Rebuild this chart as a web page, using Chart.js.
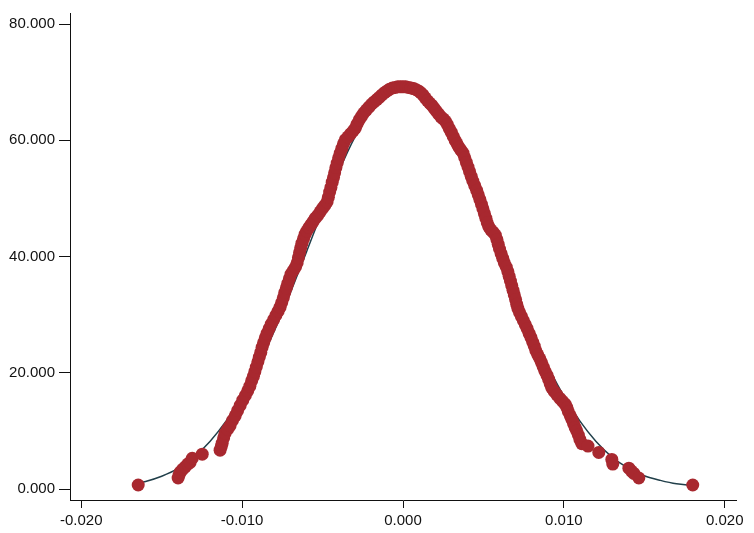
<!DOCTYPE html>
<html>
<head>
<meta charset="utf-8">
<script src="https://cdn.jsdelivr.net/npm/chart.js@4.4.1/dist/chart.umd.min.js"></script>
<style>
  html, body { margin: 0; padding: 0; background: #ffffff; }
  #wrap { width: 754px; height: 533px; position: relative; }
</style>
</head>
<body>
<div id="wrap"><canvas id="c" width="754" height="533"></canvas></div>
<script>
// Tick labels
const xTicks = [-0.020, -0.010, 0.000, 0.010, 0.020];
const yTicks = [0, 20, 40, 60, 80];

// Density estimate evaluated at each observation (red dots)
const dotX = [
  -0.01646, -0.01398, -0.01392, -0.01385, -0.01370, -0.01354, -0.01338, -0.01323, -0.01310, -0.01248,
  -0.01137, -0.01130, -0.01124, -0.01115, -0.01106, -0.01090, -0.01075, -0.01060, -0.01043, -0.01028,
  -0.01012, -0.00996, -0.00980,
  -0.00965, -0.00952, -0.00941, -0.00930, -0.00921, -0.00912, -0.00902, -0.00893, -0.00884, -0.00876,
  -0.00866, -0.00856, -0.00845, -0.00832, -0.00819, -0.00805, -0.00790, -0.00776, -0.00764, -0.00754,
  -0.00744, -0.00735, -0.00725, -0.00716, -0.00706, -0.00696, -0.00682, -0.00668, -0.00658, -0.00650,
  -0.00643, -0.00636, -0.00628, -0.00618, -0.00609, -0.00598, -0.00585, -0.00572, -0.00559, -0.00545,
  -0.00530, -0.00515, -0.00500, -0.00486, -0.00472, -0.00464, -0.00456, -0.00448, -0.00440, -0.00432,
  -0.00425, -0.00417, -0.00409, -0.00400, -0.00390, -0.00380, -0.00370, -0.00358, -0.00342, -0.00326,
  -0.00310, -0.00296, -0.00285, -0.00272, -0.00258, -0.00244, -0.00228, -0.00212, -0.00196, -0.00180,
  -0.00163, -0.00147, -0.00131, -0.00115, -0.00099, -0.00083, -0.00066, -0.00049, -0.00033, -0.00016,
  0.00000, 0.00017, 0.00034, 0.00050, 0.00066, 0.00082, 0.00096, 0.00110, 0.00124, 0.00138,
  0.00152, 0.00166, 0.00180, 0.00194, 0.00208, 0.00222, 0.00236, 0.00250, 0.00263, 0.00276,
  0.00288, 0.00300, 0.00312, 0.00324, 0.00336, 0.00348, 0.00360, 0.00373, 0.00384, 0.00394,
  0.00404, 0.00414, 0.00424, 0.00434, 0.00446, 0.00458, 0.00468, 0.00478, 0.00488, 0.00497,
  0.00506, 0.00515, 0.00524, 0.00534, 0.00546, 0.00560, 0.00574, 0.00584, 0.00592, 0.00600,
  0.00610, 0.00620, 0.00630, 0.00642, 0.00652, 0.00660, 0.00668, 0.00676, 0.00684, 0.00692,
  0.00700, 0.00707, 0.00714, 0.00724, 0.00736, 0.00748, 0.00760, 0.00772, 0.00784, 0.00795,
  0.00806, 0.00816, 0.00826, 0.00838, 0.00851, 0.00862, 0.00872, 0.00882, 0.00895, 0.00905,
  0.00915, 0.00925, 0.00940, 0.00957, 0.00975, 0.00992, 0.01008, 0.01019, 0.01028, 0.01040,
  0.01050, 0.01060, 0.01070, 0.01080, 0.01090, 0.01100, 0.01112, 0.01150, 0.01217, 0.01298,
  0.01304, 0.01404, 0.01420, 0.01435, 0.01466, 0.01801
];
const dotY = [
  0.7, 1.9, 2.4, 2.9, 3.4, 3.8, 4.3, 4.6, 5.3, 6.0,
  6.7, 7.3, 7.9, 8.8, 9.6, 10.3, 10.9, 11.8, 12.6, 13.5,
  14.4, 15.3, 16.1,
  16.9, 17.7, 18.6, 19.4, 20.2, 21.0, 21.9, 22.7, 23.5, 24.4,
  25.2, 26.0, 26.8, 27.6, 28.4, 29.1, 29.9, 30.6, 31.3, 32.1,
  32.9, 33.8, 34.6, 35.4, 36.2, 37.0, 37.6, 38.2, 38.9, 39.8,
  40.7, 41.5, 42.3, 43.1, 43.8, 44.4, 45.0, 45.5, 46.0, 46.6,
  47.1, 47.7, 48.3, 48.8, 49.4, 50.2, 51.1, 51.9, 52.8, 53.6,
  54.4, 55.3, 56.1, 57.0, 57.8, 58.6, 59.4, 60.1, 60.6, 61.1,
  61.6, 62.1, 62.8, 63.5, 64.1, 64.7, 65.2, 65.7, 66.2, 66.6,
  67.0, 67.4, 67.8, 68.2, 68.5, 68.8, 69.0, 69.1, 69.2, 69.2,
  69.2, 69.2, 69.1, 69.0, 68.9, 68.7, 68.5, 68.2, 67.8, 67.3,
  66.8, 66.4, 66.0, 65.5, 65.0, 64.5, 64.0, 63.7, 63.3, 62.7,
  62.0, 61.4, 60.7, 60.0, 59.4, 58.8, 58.3, 57.8, 57.0, 56.2,
  55.4, 54.6, 53.8, 53.0, 52.2, 51.4, 50.6, 49.8, 49.0, 48.2,
  47.4, 46.6, 45.8, 45.1, 44.6, 44.2, 43.7, 42.9, 42.1, 41.3,
  40.5, 39.7, 38.9, 38.2, 37.4, 36.6, 35.8, 35.0, 34.2, 33.4,
  32.6, 31.8, 31.1, 30.4, 29.7, 29.0, 28.3, 27.6, 26.8, 26.1,
  25.3, 24.6, 23.8, 23.1, 22.4, 21.7, 21.0, 20.3, 19.6, 18.9,
  18.1, 17.4, 16.8, 16.2, 15.6, 15.1, 14.6, 14.0, 13.3, 12.6,
  12.0, 11.3, 10.6, 10.0, 9.3, 8.5, 7.8, 7.4, 6.3, 5.1,
  4.3, 3.6, 3.1, 2.7, 1.9, 0.7
];

// Normal density reference curve (dark line)
const curveX = [
  -0.0165, -0.016, -0.015, -0.014, -0.013, -0.012, -0.011, -0.010, -0.009, -0.008,
  -0.007, -0.006, -0.005, -0.004, -0.003, -0.002, -0.001, 0.000, 0.001, 0.002,
  0.003, 0.004, 0.005, 0.006, 0.007, 0.008, 0.009, 0.010, 0.011, 0.012,
  0.013, 0.014, 0.015, 0.016, 0.017, 0.018
];
const curveY = [
  1.0, 1.3, 2.2, 3.5, 5.5, 8.2, 11.7, 16.0, 21.2, 27.2,
  33.8, 40.8, 47.9, 54.6, 60.5, 65.0, 68.0, 69.0, 68.0, 65.0,
  60.5, 54.6, 47.9, 40.8, 33.8, 27.2, 21.2, 16.0, 11.7, 8.2,
  5.5, 3.6, 2.3, 1.5, 0.9, 0.6
];

const dotPoints = dotX.map((x, i) => ({ x: x, y: dotY[i] }));
const curvePoints = curveX.map((x, i) => ({ x: x, y: curveY[i] }));

const tickFont = { family: "'Liberation Sans', Arial, sans-serif", size: 15 };
const axisColor = '#111111';

new Chart(document.getElementById('c'), {
  type: 'scatter',
  data: {
    datasets: [
      {
        label: 'density',
        data: dotPoints,
        order: 0,
        pointRadius: 6.5,
        pointHoverRadius: 6.5,
        pointBackgroundColor: '#a8282f',
        pointBorderColor: '#a8282f',
        pointBorderWidth: 0,
        showLine: false
      },
      {
        label: 'normal',
        type: 'line',
        data: curvePoints,
        order: 1,
        borderColor: '#213f4a',
        borderWidth: 1.5,
        pointRadius: 0,
        fill: false,
        cubicInterpolationMode: 'monotone'
      }
    ]
  },
  options: {
    responsive: false,
    animation: false,
    devicePixelRatio: 1,
    layout: { padding: { left: 0, top: 10, right: 18, bottom: 0 } },
    plugins: { legend: { display: false }, tooltip: { enabled: false } },
    scales: {
      x: {
        type: 'linear',
        min: -0.0207,
        max: 0.0207,
        afterBuildTicks: (s) => { s.ticks = xTicks.map(v => ({ value: v })); },
        afterFit: (s) => { s.height = 33; },
        border: { display: true, color: axisColor, width: 1 },
        grid: { display: true, drawOnChartArea: false, drawTicks: true, tickLength: 8, color: axisColor },
        ticks: {
          font: tickFont,
          color: '#111111',
          padding: 4,
          maxRotation: 0,
          autoSkip: false,
          callback: (v) => Number(v).toFixed(3)
        }
      },
      y: {
        type: 'linear',
        min: -1.88,
        max: 81.9,
        afterBuildTicks: (s) => { s.ticks = yTicks.map(v => ({ value: v })); },
        afterFit: (s) => { s.width = 70; },
        border: { display: true, color: axisColor, width: 1 },
        grid: { display: true, drawOnChartArea: false, drawTicks: true, tickLength: 11, color: axisColor },
        ticks: {
          font: tickFont,
          color: '#111111',
          padding: 4,
          autoSkip: false,
          callback: (v) => Number(v).toFixed(3)
        }
      }
    }
  }
});
</script>
</body>
</html>
